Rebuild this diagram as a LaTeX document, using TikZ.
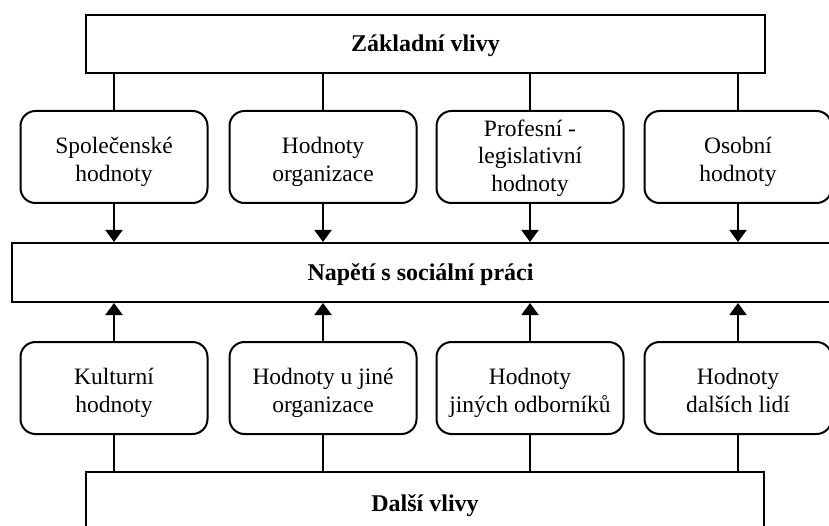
\documentclass[tikz,border=0pt]{standalone}
\usepackage{fontspec}
\setmainfont{Liberation Serif}
\usetikzlibrary{arrows.meta}
\newcommand{\tstr}[1]{\rule{0pt}{#1}}
\newcommand{\bstr}{\rule[-8.25pt]{0pt}{8.25pt}}
\begin{document}
\begin{tikzpicture}[x=1pt,y=-1pt,
  big/.style={draw,line width=2pt,rectangle,inner sep=0pt},
  bigtext/.style={inner sep=0pt,font=\fontsize{24}{28}\selectfont\bfseries},
  val/.style={draw,line width=2pt,rectangle,rounded corners=15pt,inner sep=0pt,minimum width=187pt,minimum height=92pt,align=center,font=\fontsize{23.5}{27.5}\selectfont},
  conn/.style={line width=2pt},
  arr/.style={line width=2pt,-{Triangle[width=17pt,length=12pt]}}]
\useasboundingbox (0,0) rectangle (829,526);
\node[big,minimum width=679pt,minimum height=58pt] (top) at (425.5,44) {};
\node[bigtext] (topt) at (425.5,46) {Základní vlivy};
\node[big,minimum width=820pt,minimum height=59pt] (mid) at (422,272.5) {};
\node[bigtext] (midt) at (420.5,275) {Napětí s sociální práci};
\node[big,minimum width=678pt,minimum height=64pt] (bot) at (425,504) {};
\node[bigtext] (bott) at (425,506) {Další vlivy};
\node[val] (a1) at (114,157) {\tstr{29pt}Společenské\\hodnoty\bstr};
\node[val] (a2) at (323,157) {\tstr{29pt}Hodnoty\\organizace\bstr};
\node[val] (a3) at (530,157) {\tstr{22pt}Profesní -\\legislativní\\hodnoty\bstr};
\node[val] (a4) at (738,157) {\tstr{29pt}Osobní\\hodnoty\bstr};
\node[val] (b1) at (114,388) {\tstr{29pt}Kulturní\\hodnoty\bstr};
\node[val] (b2) at (323,388) {\tstr{29pt}Hodnoty u jiné\\organizace\bstr};
\node[val] (b3) at (530,388) {\tstr{29pt}Hodnoty\\jiných odborníků\bstr};
\node[val] (b4) at (738,388) {\tstr{29pt}Hodnoty\\dalších lidí\bstr};
\foreach \n in {1,2,3,4}{
  \draw[conn] (top.south -| a\n.north) -- (a\n.north);
  \draw[arr] (a\n.south) -- (mid.north -| a\n.south);
  \draw[conn] (bot.north -| b\n.south) -- (b\n.south);
  \draw[arr] (b\n.north) -- (mid.south -| b\n.north);
}
\end{tikzpicture}
\end{document}
